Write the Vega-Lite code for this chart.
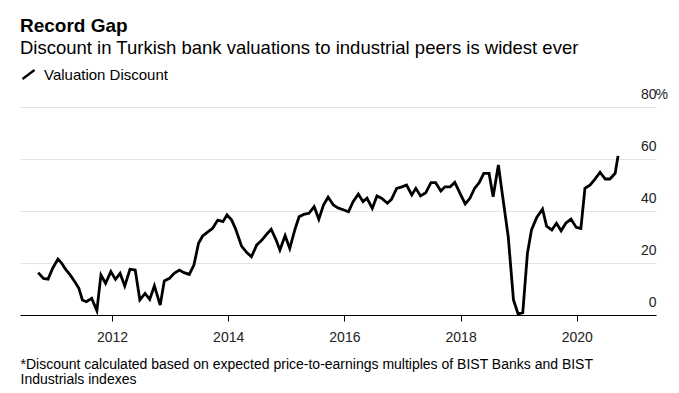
{
  "$schema": "https://vega.github.io/schema/vega-lite/v6.json",
  "width": 636,
  "height": 208,
  "autosize": {"type": "none"},
  "padding": {"left": 20, "top": 107, "right": 23, "bottom": 78},
  "background": "white",
  "config": {"view": {"stroke": null}, "font": "Liberation Sans"},
  "title": {
    "text": "Record Gap",
    "subtitle": "Discount in Turkish bank valuations to industrial peers is widest ever",
    "anchor": "start",
    "frame": "group",
    "font": "Liberation Sans",
    "fontSize": 19,
    "fontWeight": "bold",
    "color": "#000000",
    "subtitleFont": "Liberation Sans",
    "subtitleFontSize": 18.5,
    "subtitleColor": "#000000",
    "subtitlePadding": 3,
    "offset": 10
  },
  "data": {
    "values": [
      {"year": 2010.73, "discount": 16.3, "series": "Valuation Discount"},
      {"year": 2010.82, "discount": 14.1, "series": "Valuation Discount"},
      {"year": 2010.90, "discount": 13.8, "series": "Valuation Discount"},
      {"year": 2010.98, "discount": 18.0, "series": "Valuation Discount"},
      {"year": 2011.07, "discount": 21.5, "series": "Valuation Discount"},
      {"year": 2011.13, "discount": 20.1, "series": "Valuation Discount"},
      {"year": 2011.20, "discount": 17.6, "series": "Valuation Discount"},
      {"year": 2011.28, "discount": 15.4, "series": "Valuation Discount"},
      {"year": 2011.36, "discount": 12.8, "series": "Valuation Discount"},
      {"year": 2011.43, "discount": 10.3, "series": "Valuation Discount"},
      {"year": 2011.49, "discount": 5.8, "series": "Valuation Discount"},
      {"year": 2011.56, "discount": 5.1, "series": "Valuation Discount"},
      {"year": 2011.65, "discount": 6.4, "series": "Valuation Discount"},
      {"year": 2011.74, "discount": 1.7, "series": "Valuation Discount"},
      {"year": 2011.81, "discount": 15.4, "series": "Valuation Discount"},
      {"year": 2011.89, "discount": 12.2, "series": "Valuation Discount"},
      {"year": 2011.98, "discount": 16.7, "series": "Valuation Discount"},
      {"year": 2012.06, "discount": 13.7, "series": "Valuation Discount"},
      {"year": 2012.14, "discount": 16.0, "series": "Valuation Discount"},
      {"year": 2012.22, "discount": 11.2, "series": "Valuation Discount"},
      {"year": 2012.31, "discount": 17.6, "series": "Valuation Discount"},
      {"year": 2012.40, "discount": 17.3, "series": "Valuation Discount"},
      {"year": 2012.48, "discount": 5.8, "series": "Valuation Discount"},
      {"year": 2012.57, "discount": 8.3, "series": "Valuation Discount"},
      {"year": 2012.65, "discount": 6.0, "series": "Valuation Discount"},
      {"year": 2012.73, "discount": 11.2, "series": "Valuation Discount"},
      {"year": 2012.83, "discount": 3.8, "series": "Valuation Discount"},
      {"year": 2012.90, "discount": 13.1, "series": "Valuation Discount"},
      {"year": 2012.99, "discount": 14.1, "series": "Valuation Discount"},
      {"year": 2013.07, "discount": 16.0, "series": "Valuation Discount"},
      {"year": 2013.16, "discount": 17.3, "series": "Valuation Discount"},
      {"year": 2013.24, "discount": 16.3, "series": "Valuation Discount"},
      {"year": 2013.33, "discount": 15.6, "series": "Valuation Discount"},
      {"year": 2013.41, "discount": 19.2, "series": "Valuation Discount"},
      {"year": 2013.49, "discount": 27.6, "series": "Valuation Discount"},
      {"year": 2013.56, "discount": 30.4, "series": "Valuation Discount"},
      {"year": 2013.65, "discount": 32.0, "series": "Valuation Discount"},
      {"year": 2013.73, "discount": 33.3, "series": "Valuation Discount"},
      {"year": 2013.82, "discount": 36.5, "series": "Valuation Discount"},
      {"year": 2013.91, "discount": 35.9, "series": "Valuation Discount"},
      {"year": 2013.98, "discount": 38.5, "series": "Valuation Discount"},
      {"year": 2014.06, "discount": 36.5, "series": "Valuation Discount"},
      {"year": 2014.13, "discount": 33.0, "series": "Valuation Discount"},
      {"year": 2014.23, "discount": 26.5, "series": "Valuation Discount"},
      {"year": 2014.32, "discount": 24.0, "series": "Valuation Discount"},
      {"year": 2014.40, "discount": 22.4, "series": "Valuation Discount"},
      {"year": 2014.49, "discount": 26.9, "series": "Valuation Discount"},
      {"year": 2014.58, "discount": 28.8, "series": "Valuation Discount"},
      {"year": 2014.66, "discount": 31.0, "series": "Valuation Discount"},
      {"year": 2014.74, "discount": 33.0, "series": "Valuation Discount"},
      {"year": 2014.82, "discount": 29.1, "series": "Valuation Discount"},
      {"year": 2014.89, "discount": 25.0, "series": "Valuation Discount"},
      {"year": 2014.98, "discount": 30.5, "series": "Valuation Discount"},
      {"year": 2015.06, "discount": 25.6, "series": "Valuation Discount"},
      {"year": 2015.15, "discount": 33.0, "series": "Valuation Discount"},
      {"year": 2015.22, "discount": 37.8, "series": "Valuation Discount"},
      {"year": 2015.30, "discount": 38.7, "series": "Valuation Discount"},
      {"year": 2015.39, "discount": 39.1, "series": "Valuation Discount"},
      {"year": 2015.48, "discount": 41.7, "series": "Valuation Discount"},
      {"year": 2015.56, "discount": 36.8, "series": "Valuation Discount"},
      {"year": 2015.64, "discount": 42.3, "series": "Valuation Discount"},
      {"year": 2015.72, "discount": 45.3, "series": "Valuation Discount"},
      {"year": 2015.81, "discount": 42.3, "series": "Valuation Discount"},
      {"year": 2015.89, "discount": 41.2, "series": "Valuation Discount"},
      {"year": 2015.98, "discount": 40.5, "series": "Valuation Discount"},
      {"year": 2016.07, "discount": 39.7, "series": "Valuation Discount"},
      {"year": 2016.15, "discount": 43.6, "series": "Valuation Discount"},
      {"year": 2016.24, "discount": 46.5, "series": "Valuation Discount"},
      {"year": 2016.32, "discount": 43.6, "series": "Valuation Discount"},
      {"year": 2016.39, "discount": 44.9, "series": "Valuation Discount"},
      {"year": 2016.48, "discount": 41.0, "series": "Valuation Discount"},
      {"year": 2016.56, "discount": 45.8, "series": "Valuation Discount"},
      {"year": 2016.64, "discount": 44.9, "series": "Valuation Discount"},
      {"year": 2016.74, "discount": 43.0, "series": "Valuation Discount"},
      {"year": 2016.81, "discount": 44.5, "series": "Valuation Discount"},
      {"year": 2016.90, "discount": 48.7, "series": "Valuation Discount"},
      {"year": 2016.99, "discount": 49.3, "series": "Valuation Discount"},
      {"year": 2017.07, "discount": 50.0, "series": "Valuation Discount"},
      {"year": 2017.16, "discount": 46.2, "series": "Valuation Discount"},
      {"year": 2017.23, "discount": 48.7, "series": "Valuation Discount"},
      {"year": 2017.31, "discount": 45.8, "series": "Valuation Discount"},
      {"year": 2017.40, "discount": 47.0, "series": "Valuation Discount"},
      {"year": 2017.49, "discount": 50.9, "series": "Valuation Discount"},
      {"year": 2017.57, "discount": 50.9, "series": "Valuation Discount"},
      {"year": 2017.66, "discount": 47.7, "series": "Valuation Discount"},
      {"year": 2017.73, "discount": 49.3, "series": "Valuation Discount"},
      {"year": 2017.82, "discount": 49.3, "series": "Valuation Discount"},
      {"year": 2017.90, "discount": 51.0, "series": "Valuation Discount"},
      {"year": 2017.99, "discount": 46.8, "series": "Valuation Discount"},
      {"year": 2018.08, "discount": 42.7, "series": "Valuation Discount"},
      {"year": 2018.16, "discount": 44.9, "series": "Valuation Discount"},
      {"year": 2018.24, "discount": 48.7, "series": "Valuation Discount"},
      {"year": 2018.32, "discount": 50.9, "series": "Valuation Discount"},
      {"year": 2018.40, "discount": 54.5, "series": "Valuation Discount"},
      {"year": 2018.49, "discount": 54.5, "series": "Valuation Discount"},
      {"year": 2018.56, "discount": 45.5, "series": "Valuation Discount"},
      {"year": 2018.65, "discount": 57.7, "series": "Valuation Discount"},
      {"year": 2018.74, "discount": 43.0, "series": "Valuation Discount"},
      {"year": 2018.82, "discount": 30.1, "series": "Valuation Discount"},
      {"year": 2018.91, "discount": 5.8, "series": "Valuation Discount"},
      {"year": 2018.99, "discount": 0.4, "series": "Valuation Discount"},
      {"year": 2019.07, "discount": 0.9, "series": "Valuation Discount"},
      {"year": 2019.15, "discount": 23.7, "series": "Valuation Discount"},
      {"year": 2019.22, "discount": 32.7, "series": "Valuation Discount"},
      {"year": 2019.31, "discount": 37.5, "series": "Valuation Discount"},
      {"year": 2019.41, "discount": 40.7, "series": "Valuation Discount"},
      {"year": 2019.48, "discount": 34.2, "series": "Valuation Discount"},
      {"year": 2019.57, "discount": 32.7, "series": "Valuation Discount"},
      {"year": 2019.65, "discount": 35.3, "series": "Valuation Discount"},
      {"year": 2019.73, "discount": 32.4, "series": "Valuation Discount"},
      {"year": 2019.81, "discount": 35.3, "series": "Valuation Discount"},
      {"year": 2019.90, "discount": 36.9, "series": "Valuation Discount"},
      {"year": 2019.99, "discount": 33.7, "series": "Valuation Discount"},
      {"year": 2020.07, "discount": 33.3, "series": "Valuation Discount"},
      {"year": 2020.14, "discount": 48.7, "series": "Valuation Discount"},
      {"year": 2020.23, "discount": 50.0, "series": "Valuation Discount"},
      {"year": 2020.31, "discount": 52.2, "series": "Valuation Discount"},
      {"year": 2020.40, "discount": 54.9, "series": "Valuation Discount"},
      {"year": 2020.49, "discount": 52.3, "series": "Valuation Discount"},
      {"year": 2020.57, "discount": 52.3, "series": "Valuation Discount"},
      {"year": 2020.66, "discount": 54.5, "series": "Valuation Discount"},
      {"year": 2020.71, "discount": 61.2, "series": "Valuation Discount"}
    ]
  },
  "encoding": {
    "x": {
      "field": "year",
      "type": "quantitative",
      "scale": {"domain": [2010.417, 2021.363], "nice": false, "zero": false},
      "axis": {
        "values": [2012, 2014, 2016, 2018, 2020],
        "format": "d",
        "grid": false,
        "domainColor": "#000000",
        "domainWidth": 1,
        "tickColor": "#000000",
        "tickSize": 6,
        "labelFont": "Liberation Sans",
        "labelFontSize": 14,
        "labelColor": "#222222",
        "labelPadding": 9,
        "title": ["*Discount calculated based on expected price-to-earnings multiples of BIST Banks and BIST", "Industrials indexes"],
        "titleAnchor": "start",
        "titleAlign": "left",
        "titleBaseline": "top",
        "titleX": 0,
        "titleY": 42,
        "titleFont": "Liberation Sans",
        "titleFontSize": 14,
        "titleFontWeight": "normal",
        "titleColor": "#000000",
        "titleLineHeight": 15
      }
    }
  },
  "layer": [
    {
      "mark": {"type": "line", "strokeWidth": 2.8},
      "encoding": {
        "y": {
          "field": "discount",
          "type": "quantitative",
          "scale": {"domain": [0, 80], "nice": false},
          "axis": {
            "orient": "right",
            "values": [0, 20, 40, 60, 80],
            "grid": true,
            "gridColor": "#e3e3e3",
            "gridWidth": 1,
            "domain": false,
            "ticks": false,
            "labelAlign": "right",
            "labelBaseline": "alphabetic",
            "labelOffset": -9,
            "labelPadding": 0,
            "labelFont": "Liberation Sans",
            "labelFontSize": 14,
            "labelColor": "#222222",
            "title": null
          }
        },
        "color": {
          "field": "series",
          "type": "nominal",
          "scale": {"range": ["#000000"]},
          "legend": {
            "orient": "none",
            "legendX": 1,
            "legendY": -40,
            "title": null,
            "padding": 0,
            "symbolType": "M-1,0.75L1,-0.75",
            "symbolSize": 144,
            "symbolStrokeWidth": 2.2,
            "symbolStrokeColor": "#000000",
            "symbolFillColor": "transparent",
            "labelFont": "Liberation Sans",
            "labelFontSize": 15,
            "labelColor": "#000000",
            "labelOffset": 8
          }
        }
      }
    },
    {
      "mark": {"type": "line", "opacity": 0},
      "encoding": {
        "y": {
          "field": "discount",
          "type": "quantitative",
          "axis": {
            "orient": "right",
            "values": [80],
            "labelExpr": "'%'",
            "grid": false,
            "domain": false,
            "ticks": false,
            "labelAlign": "left",
            "labelBaseline": "alphabetic",
            "labelOffset": -9,
            "labelPadding": -1,
            "labelFont": "Liberation Sans",
            "labelFontSize": 14,
            "labelColor": "#222222",
            "title": null
          }
        }
      }
    }
  ],
  "resolve": {"axis": {"y": "independent"}}
}
